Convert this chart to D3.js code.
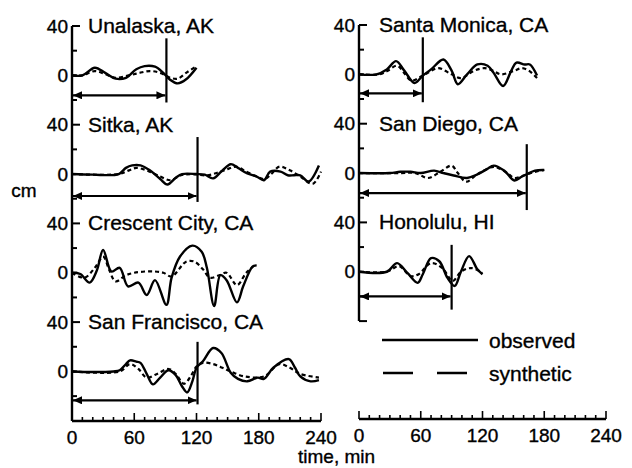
<!DOCTYPE html>
<html>
<head>
    <meta charset="utf-8">
    <script src="https://d3js.org/d3.v7.min.js"></script>
    <style>
        body { margin: 0; background: #fff; }
        text { font-family: "Liberation Sans", Arial, Helvetica, sans-serif; fill: #000; stroke: #000; stroke-width: 0.35px; }
    </style>
</head>
<body>
    <script>
        // Tide-gauge records (time in min, amplitude in cm)
        var stations = ["Unalaska, AK", "Sitka, AK", "Crescent City, CA", "San Francisco, CA",
                        "Santa Monica, CA", "San Diego, CA", "Honolulu, HI"];
        var column = [0, 0, 0, 0, 1, 1, 1];
        var row = [0, 1, 2, 3, 0, 1, 2];

        var obsUnalaska = [[0,0],[10,0],[22,6.2],[32,2],[42,-2.7],[52,-2],[62,5],[70,7.5],[80,7],[88,2],[94,-3.2],[102,-6.5],[110,-3.2],[120,6.2]];
        var synUnalaska = [[0,0],[10,0],[22,3.5],[32,1],[42,-2],[55,0],[65,2],[75,3.5],[85,2],[95,-2],[102,-2.7],[110,2],[120,7.5]];

        var obsSitka = [[0,0],[20,-0.5],[45,0],[52,5],[58,7],[66,7],[75,3],[85,-4],[92,-8.5],[100,-3],[106,0],[120,0],[128,-0.5],[136,-3.5],[145,3],[153,8],[160,5],[169,0.5],[178,-2],[185,-5],[191,2],[201,2],[208,-1],[214,-1],[220,-1],[228,-6],[238,7]];
        var synSitka = [[0,0],[45,0],[55,3],[62,5],[72,3],[85,-2],[95,-5],[105,-1],[115,0],[130,-1],[140,1],[150,4],[158,6],[168,2],[178,-2],[186,-4],[192,0],[200,6],[210,3],[220,-2],[232,-8],[240,2]];

        var obsCrescent = [[0,0],[8,-1],[17,-8],[24,2],[30,18.5],[38,1],[46,4],[54,-11],[64,-8],[72,-18],[80,-6],[91,-26],[96,-4],[104,13],[116,22],[125,17],[130,4],[137,-27],[143,-2],[149,-6],[159,-24],[165,-11],[174,5],[178,6]];
        var synCrescent = [[0,0],[12,-4],[22,4],[30,13],[36,2],[42,-7],[52,-2],[60,0],[70,1],[80,1],[88,0],[96,-3],[110,9],[118,9],[126,3],[133,-4],[142,-2],[149,0],[159,-10],[168,0],[176,6]];

        var obsSanFrancisco = [[0,0],[20,-0.5],[40,0],[46,1],[52,6],[56,9],[62,8],[66,7],[72,-2],[78,-10.5],[85,-5],[93,1],[100,-3],[106,-12],[111,-17],[116,-8],[120,3],[126,8],[136,19],[144,15],[153,-1],[160,-6],[169,-8],[179,-5],[185,-6],[194,3],[209,10],[215,3],[220,-4],[230,-8],[238,-7]];
        var synSanFrancisco = [[0,0],[46,0],[56,6],[64,2],[72,-5],[82,-2],[93,2],[100,-2],[108,-10],[115,-3],[120,4],[126,7],[136,6],[145,3],[153,0],[166,-4],[185,-4],[200,6],[210,3],[220,-2],[238,-5]];

        var obsSantaMonica = [[0,0],[17,0],[27,4],[36,10.7],[44,3],[54,-7],[62,-1],[70,4],[82,12],[90,3],[96,-8],[105,0],[115,8],[125,7],[131,1],[140,-9.5],[148,3],[153,9.5],[161,8],[166,8],[173,-1]];
        var synSantaMonica = [[0,0],[20,0],[28,3],[37,7],[44,1],[51,-5],[64,0],[77,5],[90,0],[99,-3],[112,3],[122,5],[130,3],[138,0],[151,3],[158,5],[165,3],[173,-3]];

        var obsSanDiego = [[0,0],[30,0],[40,1],[50,1],[60,0],[73,2],[82,0],[92,-2],[105,-4],[115,-1],[124,3],[131,6],[141,2],[151,-6],[158,-3],[163,-1],[171,2],[180,2.5]];
        var synSanDiego = [[0,0],[40,0],[55,0],[67,-4],[79,1],[90,6],[96,0],[104,-7],[115,-1],[131,5],[144,0],[151,-4],[163,-1],[171,1],[180,2.5]];

        var obsHonolulu = [[0,0],[27,0],[37,7],[47,-1],[57,-9],[62,-2],[70,11],[78,8.5],[86,-5],[93,-11.5],[99,0],[107,12.7],[115,2],[120,-2]];
        var synHonolulu = [[0,0],[27,0],[39,4.6],[50,-3.5],[58,-2],[70,7],[81,3],[91,-7.5],[99,0],[109,3],[120,-1]];

        var observed = [obsUnalaska, obsSitka, obsCrescent, obsSanFrancisco, obsSantaMonica, obsSanDiego, obsHonolulu];
        var synthetic = [synUnalaska, synSitka, synCrescent, synSanFrancisco, synSantaMonica, synSanDiego, synHonolulu];

        // Arrival-time marker (min) and its vertical extent / arrow level (cm); Crescent City has none
        var arrivalTime = [91, 121, null, 121, 62, 163, 90];
        var markerTopCm = [30, 30, null, 24, 30, 23.4, 21.8];
        var markerBottomCm = [-22, -22.6, null, -26.7, -22.6, -30, -30.7];
        var arrowCm = [-16.2, -17.8, null, -23.4, -15.4, -16.2, -20];

        var timeTicks = [0, 60, 120, 180, 240];
        var yTickLabels = [40, 0];
        var legendLabels = ["observed", "synthetic"];

        // Layout
        var width = 632, height = 468;
        var panelH = 98.7;
        var colTop = [26, 25];
        var colX = [
            d3.scaleLinear().domain([0, 240]).range([72, 321]),
            d3.scaleLinear().domain([0, 240]).range([359, 606])
        ];
        var axisY = [421, 419];

        var svg = d3.select("body").append("svg")
            .attr("width", width)
            .attr("height", height);

        svg.append("defs").append("marker")
            .attr("id", "head")
            .attr("viewBox", "0 -4 9 8")
            .attr("refX", 9)
            .attr("refY", 0)
            .attr("markerUnits", "userSpaceOnUse")
            .attr("markerWidth", 9)
            .attr("markerHeight", 8)
            .attr("orient", "auto-start-reverse")
            .append("path")
            .attr("d", "M0,-4L9,0L0,4Z")
            .attr("fill", "#000");

        function yScale(i) {
            var top = colTop[column[i]] + row[i] * panelH;
            return d3.scaleLinear().domain([-40, 40]).range([top + panelH, top]);
        }

        var line = d3.line().curve(d3.curveCatmullRom.alpha(0.5));

        stations.forEach(function(name, i) {
            var x = colX[column[i]];
            var y = yScale(i);
            var g = svg.append("g");
            var ax = x(0);

            // y ticks
            [[40, 8], [20, 5], [0, 5], [-20, 5]].forEach(function(t) {
                g.append("line")
                    .attr("x1", ax).attr("x2", ax + t[1])
                    .attr("y1", y(t[0])).attr("y2", y(t[0]))
                    .attr("stroke", "#000").attr("stroke-width", 2);
            });
            yTickLabels.forEach(function(v) {
                g.append("text")
                    .attr("x", ax - 4).attr("y", y(v))
                    .attr("text-anchor", "end")
                    .attr("dominant-baseline", "central")
                    .attr("font-size", 19)
                    .text(v);
            });

            g.append("text")
                .attr("x", ax + (column[i] ? 20 : 16))
                .attr("y", y(40) + 7)
                .attr("font-size", 21)
                .text(name);

            g.append("path")
                .attr("d", line(synthetic[i].map(function(p) { return [x(p[0]), y(p[1])]; })))
                .attr("fill", "none").attr("stroke", "#000")
                .attr("stroke-width", 2.2).attr("stroke-dasharray", "4,3");

            g.append("path")
                .attr("d", line(observed[i].map(function(p) { return [x(p[0]), y(p[1])]; })))
                .attr("fill", "none").attr("stroke", "#000")
                .attr("stroke-width", 2.4).attr("stroke-linejoin", "round");

            if (arrivalTime[i] !== null) {
                g.append("line")
                    .attr("x1", x(arrivalTime[i])).attr("x2", x(arrivalTime[i]))
                    .attr("y1", y(markerTopCm[i])).attr("y2", y(markerBottomCm[i]))
                    .attr("stroke", "#000").attr("stroke-width", 2.2);
                g.append("line")
                    .attr("x1", ax + 1).attr("x2", x(arrivalTime[i]) - 1)
                    .attr("y1", y(arrowCm[i])).attr("y2", y(arrowCm[i]))
                    .attr("stroke", "#000").attr("stroke-width", 2.2)
                    .attr("marker-start", "url(#head)")
                    .attr("marker-end", "url(#head)");
            }
        });

        // y axis lines
        svg.append("line")
            .attr("x1", colX[0](0)).attr("x2", colX[0](0))
            .attr("y1", colTop[0]).attr("y2", axisY[0])
            .attr("stroke", "#000").attr("stroke-width", 2.4);
        svg.append("line")
            .attr("x1", colX[1](0)).attr("x2", colX[1](0))
            .attr("y1", colTop[1]).attr("y2", colTop[1] + 3 * panelH)
            .attr("stroke", "#000").attr("stroke-width", 2.4);
        svg.append("line")
            .attr("x1", colX[1](0)).attr("x2", colX[1](0) + 8)
            .attr("y1", colTop[1] + 3 * panelH).attr("y2", colTop[1] + 3 * panelH)
            .attr("stroke", "#000").attr("stroke-width", 2);

        // time axes
        [0, 1].forEach(function(c) {
            var x = colX[c];
            var g = svg.append("g").attr("transform", "translate(0," + axisY[c] + ")");
            g.append("line")
                .attr("x1", x(0)).attr("x2", x(240))
                .attr("stroke", "#000").attr("stroke-width", 2.4);
            g.selectAll(".tk").data(d3.range(0, 241, 10)).join("line")
                .attr("x1", x).attr("x2", x)
                .attr("y1", 0).attr("y2", function(d) { return d % 60 === 0 ? -8 : -4; })
                .attr("stroke", "#000").attr("stroke-width", 1.6);
            g.selectAll("text").data(timeTicks).join("text")
                .attr("x", x).attr("y", 16)
                .attr("text-anchor", "middle")
                .attr("dominant-baseline", "central")
                .attr("font-size", 19)
                .text(function(d) { return d; });
        });

        svg.append("text")
            .attr("x", 298).attr("y", 456)
            .attr("dominant-baseline", "central")
            .attr("font-size", 19)
            .text("time, min");

        svg.append("text")
            .attr("x", 24).attr("y", 190)
            .attr("text-anchor", "middle")
            .attr("dominant-baseline", "central")
            .attr("font-size", 19)
            .text("cm");

        // legend
        var legend = svg.append("g");
        [["none", 382, 478, 340], ["30,24", 383, 467, 373]].forEach(function(l, k) {
            legend.append("line")
                .attr("x1", l[1]).attr("x2", l[2])
                .attr("y1", l[3]).attr("y2", l[3])
                .attr("stroke", "#000").attr("stroke-width", 2.4)
                .attr("stroke-dasharray", l[0]);
            legend.append("text")
                .attr("x", 489).attr("y", l[3])
                .attr("dominant-baseline", "central")
                .attr("font-size", 21)
                .text(legendLabels[k]);
        });
    </script>
</body>
</html>
